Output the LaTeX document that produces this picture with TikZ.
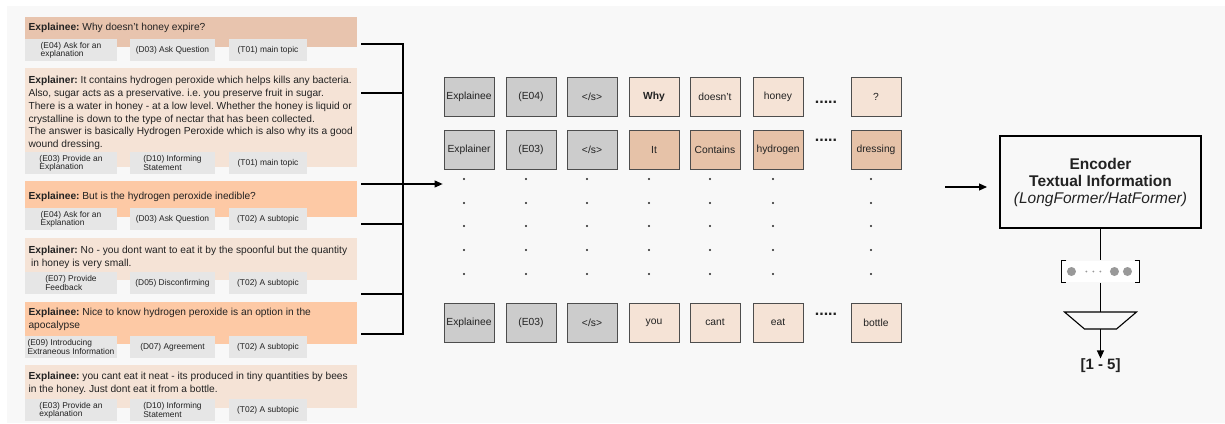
\documentclass[tikz,border=0pt]{standalone}
\usepackage{fontspec}
\setmainfont{Liberation Sans}
\usetikzlibrary{arrows.meta}
\frenchspacing

\definecolor{bg}{HTML}{F8F8F8}
\definecolor{ink}{HTML}{222222}
\definecolor{utdark}{HTML}{E8C4AE}
\definecolor{utlight}{HTML}{F5E3D6}
\definecolor{utpeach}{HTML}{FDC9A5}
\definecolor{taggray}{HTML}{E6E6E6}
\definecolor{tokgray}{HTML}{CCCCCC}
\definecolor{toklight}{HTML}{F5E3D6}
\definecolor{tokdark}{HTML}{E6C2A8}
\definecolor{tokline}{HTML}{4D4D4D}
\definecolor{dotgray}{HTML}{999999}

\newcommand{\eos}{</s>}

\tikzset{
  utter/.style={anchor=north west, minimum width=332pt, inner sep=0pt},
  uttext/.style={anchor=north west, align=left, inner sep=0pt, text=ink,
    font=\fontsize{10.2}{12.7}\selectfont},
  tag/.style={fill=taggray, minimum height=22pt, inner sep=0pt, align=left,
    text=ink, font=\fontsize{8.4}{8.2}\selectfont},
  tok/.style={draw=tokline, line width=0.8pt, minimum width=50pt,
    minimum height=39pt, inner sep=0pt, text=ink, font=\fontsize{10.3}{12}\selectfont},
  gap/.style={inner sep=0pt, text=ink, font=\bfseries\fontsize{16}{16}\selectfont},
}

\begin{document}
\begin{tikzpicture}[x=1pt, y=-1pt, line width=1.1pt,
  >={Triangle[length=8pt,width=7pt]}]
\useasboundingbox (0,0) rectangle (1225,423);
\fill[bg] (7,6) rectangle (1225,423);

% dialogue turns
\foreach \y/\h/\fc [count=\i] in
  {16/30/utdark, 67/99/utlight, 180/36/utpeach, 237/42/utlight, 301/42/utpeach, 364/43/utlight}
  \node[utter, fill=\fc, minimum height=\h] (b\i) at (24,\y) {};

\node[uttext] (s1) at ([shift={(4,7)}]b1.north west)
  {\textbf{Explainee:} Why doesn't honey expire?};
\node[uttext] (s2) at ([shift={(4,9)}]b2.north west)
  {\textbf{Explainer:} It contains hydrogen peroxide which helps kills any bacteria.\\
   Also, sugar acts as a preservative. i.e. you preserve fruit in sugar.\\
   There is a water in honey - at a low level. Whether the honey is liquid or\\
   crystalline is down to the type of nectar that has been collected.\\
   The answer is basically Hydrogen Peroxide which is also why its a good\\
   wound dressing.};
\node[uttext] (s3) at ([shift={(4,12)}]b3.north west)
  {\textbf{Explainee:} But is the hydrogen peroxide inedible?};
\node[uttext] (s4) at ([shift={(4,9)}]b4.north west)
  {\textbf{Explainer:} No - you dont want to eat it by the spoonful but the quantity\\
   \hspace*{2.5pt}in honey is very small.};
\node[uttext] (s5) at ([shift={(4,7)}]b5.north west)
  {\textbf{Explainee:} Nice to know hydrogen peroxide is an option in the\\
   apocalypse};
\node[uttext] (s6) at ([shift={(4,8)}]b6.north west)
  {\textbf{Explainee:} you cant eat it neat - its produced in tiny quantities by bees\\
   in the honey. Just dont eat it from a bottle.};

% annotation tags
\foreach \y/\ta/\tb/\tc [count=\i] in
  {50/{(E04) Ask for an\\explanation}/{(D03) Ask Question}/{(T01) main topic},
   163/{(E03) Provide an\\Explanation}/{(D10) Informing\\Statement}/{(T01) main topic},
   219/{(E04) Ask for an\\Explanation}/{(D03) Ask Question}/{(T02) A subtopic},
   283/{(E07) Provide\\Feedback}/{(D05) Disconfirming}/{(T02) A subtopic},
   347/{(E09) Introducing\\Extraneous Information}/{(D07) Agreement}/{(T02) A subtopic},
   410/{(E03) Provide an\\explanation}/{(D10) Informing\\Statement}/{(T02) A subtopic}}
{
  \node[tag, minimum width=92pt] (g\i-1) at (71,\y) {\ta};
  \node[tag, minimum width=85pt] (g\i-2) at (172.5,\y) {\tb};
  \node[tag, minimum width=78pt] (g\i-3) at (268,\y) {\tc};
}

% token rows
\foreach \x/\fc/\txt [count=\c] in
  {444/tokgray/Explainee, 506/tokgray/(E04), 567/tokgray/\eos, 629/toklight/\textbf{Why},
   690/toklight/doesn't, 753/toklight/honey, 851/toklight/?}
  \node[tok, fill=\fc] (r1-\c) at (\x+25,96.5) {\txt};
\foreach \x/\fc/\txt [count=\c] in
  {444/tokgray/Explainer, 506/tokgray/(E03), 567/tokgray/\eos, 629/tokdark/It,
   690/tokdark/Contains, 753/tokdark/hydrogen, 851/tokdark/dressing}
  \node[tok, fill=\fc] (r2-\c) at (\x+25,150) {\txt};
\foreach \x/\fc/\txt [count=\c] in
  {444/tokgray/Explainee, 506/tokgray/(E03), 567/tokgray/\eos, 629/toklight/you,
   690/toklight/cant, 753/toklight/eat, 851/toklight/bottle}
  \node[tok, fill=\fc] (r3-\c) at (\x+25,322.5) {\txt};

\node[gap] (gap1) at (826,102) {.....};
\node[gap] (gap2) at (826,140) {.....};
\node[gap] (gap3) at (826,314) {.....};

\foreach \x in {444,506,567,629,690,753,851}
  \foreach \y in {179,203,226,250,274}
    \fill[ink] (\x+20,\y) circle (1.2pt);

% turns into the token rows
\coordinate (spine) at (403,0);
\foreach \y [count=\i] in {44,93,184,224,294,334}
  \coordinate (u\i) at (361,\y);
\draw (u1) -- (u1 -| spine) -- (u6 -| spine) -- (u6);
\foreach \i in {2,4,5}
  \draw (u\i) -- (u\i -| spine);
\draw[->] (u3) -- ([xshift=-1pt]r1-1.west |- u3);

% encoder
\node[draw, line width=1.2pt, minimum width=201pt, minimum height=92pt, align=center,
  text=ink, font=\fontsize{15.5}{17}\selectfont] (enc) at (1100.5,182)
  {\textbf{Encoder}\\ \textbf{Textual Information}\\ \textit{(LongFormer/HatFormer)}};
\coordinate (grid-out) at (945,187);
\coordinate (enc-in) at (987,187);
\draw[->] (grid-out) -- (enc-in);

\node[fill=white, minimum width=77pt, minimum height=21pt, inner sep=0pt] (vec) at (1100.5,271.5) {};
\draw[line width=1.2pt] ([xshift=5pt]vec.north west) -- (vec.north west) -- (vec.south west) -- ++(5,0);
\draw[line width=1.2pt] ([xshift=-5pt]vec.north east) -- (vec.north east) -- (vec.south east) -- ++(-5,0);
\fill[dotgray] ([xshift=10pt]vec.west) circle (4.5pt);
\fill[dotgray] ([xshift=53pt]vec.west) circle (4.5pt);
\fill[dotgray] ([xshift=66pt]vec.west) circle (4.5pt);
\foreach \dx in {25,32,39}
  \fill[dotgray] ([xshift=\dx pt]vec.west) circle (1pt);

\coordinate (head) at (1100.5,312);
\draw (head) ++(-36,0) -- ++(72,0) -- ++(-20,17) -- ++(-32,0) -- cycle;
\coordinate (head-out) at (1100.5,329);

\node[inner sep=0pt, text=ink, font=\bfseries\fontsize{15}{15}\selectfont] (score) at (1100.5,366) {[1 - 5]};

\draw (enc.south) -- (vec.north);
\draw (vec.south) -- (head);
\draw[->] (head-out) -- (score.north);
\end{tikzpicture}
\end{document}
